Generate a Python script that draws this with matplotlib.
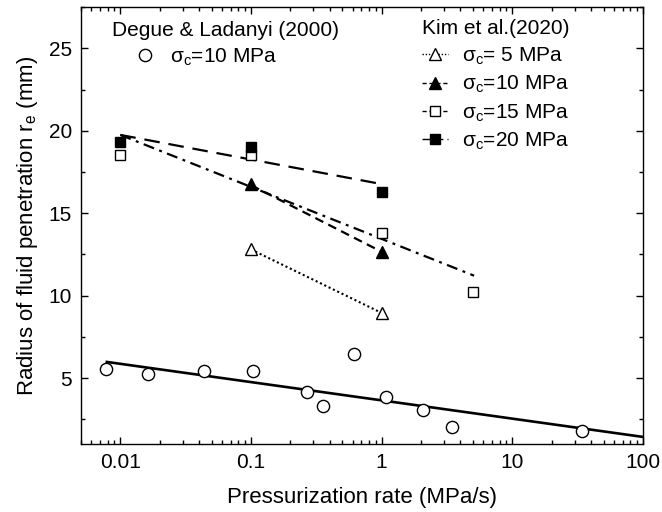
import numpy as np
import matplotlib
matplotlib.use("Agg")
import matplotlib.pyplot as plt
from matplotlib.ticker import LogLocator, FixedLocator, FuncFormatter, MultipleLocator
from matplotlib.lines import Line2D

plt.rcParams['font.family'] = ['Liberation Sans', 'DejaVu Sans']
plt.rcParams['mathtext.default'] = 'regular'

# Degue & Ladanyi (2000), sigma_c = 10 MPa
degue_x = [0.0077, 0.0163, 0.0433, 0.104, 0.268, 0.354, 0.611, 1.07, 2.08, 3.48, 34.4]
degue_y = [5.54, 5.24, 5.40, 5.40, 4.15, 3.28, 6.47, 3.85, 3.08, 2.05, 1.77]
degue_fit_x = [0.0077, 100]
degue_fit_y = [5.99, 1.43]

# Kim et al. (2020)
k5_x = [0.1, 1]
k5_y = [12.86, 8.93]
k10_x = [0.1, 1]
k10_y = [16.75, 12.66]
k15_x = [0.01, 0.1, 1, 5]
k15_y = [18.51, 18.51, 13.83, 10.24]
k20_x = [0.01, 0.1, 1]
k20_y = [19.31, 19.01, 16.29]

# trend lines (Kim et al.)
k5_fit_x = [0.1, 1]
k5_fit_y = [12.8, 8.95]
k10_fit_x = [0.1, 1]
k10_fit_y = [16.7, 12.66]
k15_fit_x = [0.01, 5.1]
k15_fit_y = [19.75, 11.21]
k20_fit_x = [0.01, 0.95]
k20_fit_y = [19.75, 16.8]

x_ticks = [0.01, 0.1, 1, 10, 100]
y_ticks = [5, 10, 15, 20, 25]

fig = plt.figure(figsize=(6.62, 5.12), dpi=100)
ax = fig.add_axes([0.1224, 0.1328, 0.9713 - 0.1224, 0.986 - 0.1328])

FS = 15
LFS = 16

# Degue
ax.plot(degue_fit_x, degue_fit_y, color='black', lw=1.9, solid_capstyle='butt')
deg_h, = ax.plot(degue_x, degue_y, 'o', ms=8.8, mfc='white', mec='black', mew=1.0)

# Kim lines
ax.plot(k5_fit_x, k5_fit_y, color='black', lw=1.5, ls=(0, (1, 1.3)))
ax.plot(k10_fit_x, k10_fit_y, color='black', lw=1.6, ls=(0, (4, 2.5)))
ax.plot(k15_fit_x, k15_fit_y, color='black', lw=1.6, ls=(0, (5, 2.5, 1.3, 2.5)))
ax.plot(k20_fit_x, k20_fit_y, color='black', lw=1.6, ls=(0, (7, 4)))

ax.plot(k5_x, k5_y, '^', ms=9, mfc='white', mec='black', mew=1.0)
ax.plot(k10_x, k10_y, '^', ms=9, mfc='black', mec='black', mew=1.0)
ax.plot(k15_x, k15_y, 's', ms=7, mfc='white', mec='black', mew=1.0)
ax.plot(k20_x, k20_y, 's', ms=7, mfc='black', mec='black', mew=1.0)

# legend proxies (line + marker)
p5 = Line2D([], [], color='black', lw=1.0, ls=(0, (1, 1.3)), marker='^', ms=8, mfc='white', mec='black')
p10 = Line2D([], [], color='black', lw=1.0, ls=(0, (3, 2)), marker='^', ms=8, mfc='black', mec='black')
p15 = Line2D([], [], color='black', lw=1.0, ls=(0, (3, 2)), marker='s', ms=6.5, mfc='white', mec='black')
p20 = Line2D([], [], color='black', lw=1.0, ls=(0, (6, 3)), marker='s', ms=6.5, mfc='black', mec='black')

ax.set_xscale('log')
ax.set_xlim(0.005, 100)
ax.set_ylim(1, 27.5)

ax.xaxis.set_major_locator(FixedLocator(x_ticks))
ax.xaxis.set_major_formatter(FuncFormatter(lambda v, p: '%g' % v))
ax.xaxis.set_minor_locator(LogLocator(base=10, subs=np.arange(2, 10), numticks=20))
ax.xaxis.set_minor_formatter(FuncFormatter(lambda v, p: ''))
ax.yaxis.set_major_locator(FixedLocator(y_ticks))
ax.yaxis.set_minor_locator(MultipleLocator(2.5))

ax.tick_params(which='both', direction='in', top=True, right=True, labelsize=FS, width=1.0, pad=6.5)
ax.tick_params(which='major', length=5)
ax.tick_params(which='minor', length=2.6)
for s in ax.spines.values():
    s.set_linewidth(1.0)

ax.set_xlabel('Pressurization rate (MPa/s)', fontsize=LFS, labelpad=11)
ax.set_ylabel(r'Radius of fluid penetration r$_e$ (mm)', fontsize=LFS, labelpad=6)

# Degue legend
ax.text(0.055, 0.947, 'Degue & Ladanyi (2000)', transform=ax.transAxes, fontsize=FS,
        ha='left', va='center')
leg1 = ax.legend(handles=[deg_h], labels=[r'σ$_c$=10 MPa'], loc='upper left',
                 bbox_to_anchor=(0.092, 0.91), frameon=False, fontsize=FS,
                 handlelength=1.2, handletextpad=0.6, borderpad=0, borderaxespad=0)
ax.add_artist(leg1)

leg2 = ax.legend(handles=[p5, p10, p15, p20],
                 labels=[r'σ$_c$= 5 MPa', r'σ$_c$=10 MPa', r'σ$_c$=15 MPa', r'σ$_c$=20 MPa'],
                 title='Kim et al.(2020)', title_fontsize=FS, alignment='left',
                 loc='upper left', bbox_to_anchor=(0.607, 0.972), frameon=False, fontsize=FS,
                 handlelength=1.25, handletextpad=0.65, labelspacing=0.34,
                 borderpad=0, borderaxespad=0)

fig.savefig('out.png', dpi=100)
